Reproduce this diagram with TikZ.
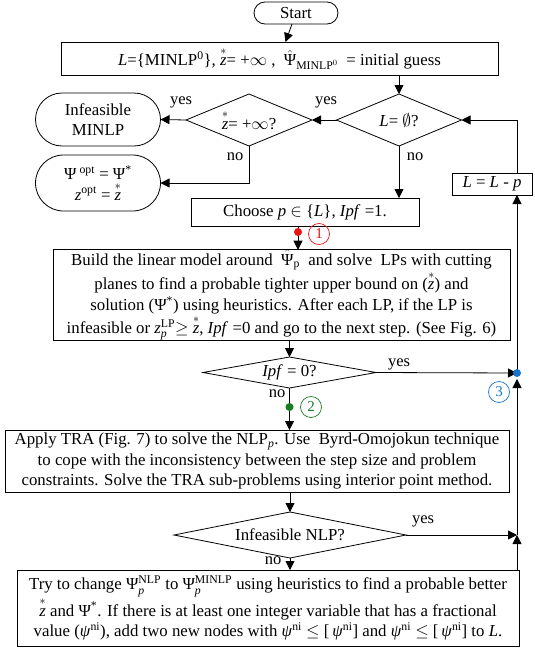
\documentclass[tikz,border=0pt]{standalone}
\usepackage{fontspec}
\usepackage{amsmath}
\setmainfont{Liberation Serif}
\usetikzlibrary{shapes.geometric,shapes.misc,arrows.meta}
\definecolor{cred}{RGB}{235,20,20}
\definecolor{cgreen}{RGB}{25,125,30}
\definecolor{cblue}{RGB}{25,115,205}
\newcommand{\zst}{\ensuremath{\overset{*}{\text{\itshape z}}}}
\begin{document}
\begin{tikzpicture}[x=1pt,y=-1pt, font=\fontsize{16.8}{20.5}\selectfont,
  every node/.style={inner sep=0pt, outer sep=0pt},
  box/.style={draw, line width=0.8pt, rectangle, align=center},
  dia/.style={draw, line width=0.8pt, diamond, align=center},
  term/.style={draw, line width=0.8pt, rounded rectangle, align=center},
  arr/.style={line width=0.8pt, -{Triangle[length=9pt,width=9pt]}},
  ln/.style={line width=0.8pt},
  lbl/.style={font=\fontsize{16.5}{18}\selectfont},
  num/.style={circle, draw, line width=0.7pt, minimum size=21pt, font=\fontsize{15}{15}\selectfont},
  dotn/.style={circle, fill, minimum size=8pt}
]
\useasboundingbox (0,0) rectangle (535,648);

% nodes
\node[term, minimum width=84pt, minimum height=22pt] (start) at (296,13) {Start};
\node[box, minimum width=437pt, minimum height=33pt] (init) at (279.5,58.5)
  {\textit{L}=\{MINLP\textsuperscript{0}\}, \zst= +$\infty$ , \ $\hat{\text{Ψ}}_{\text{MINLP}^{0}}$ \ = initial guess};
\node[dia, minimum width=125pt, minimum height=52pt, aspect=2.4] (Ldia) at (399,120) {\textit{L}= $\emptyset$?};
\node[dia, minimum width=126pt, minimum height=52pt, aspect=2.4] (zdia) at (249,120) {\zst= +$\infty$?};
\node[term, minimum width=125pt, minimum height=53pt] (inf) at (98,119.5) {Infeasible\\MINLP};
\node[term, minimum width=125pt, minimum height=56pt] (opt) at (98,183)
  {Ψ\textsuperscript{ opt} = Ψ\textsuperscript{*}\\\textit{z}\textsuperscript{opt} = \zst};
\node[box, minimum width=228pt, minimum height=28pt] (choose) at (305,212)
  {Choose \textit{p} $\in$ \{\textit{L}\}, \textit{Ipf} =1.};
\node[box, minimum width=80pt, minimum height=22pt] (llp) at (492,184) {\textit{L} = \textit{L} - \textit{p}};
\node[box, minimum width=457pt, minimum height=90pt] (build) at (281.5,295)
  {Build the linear model around \ $\hat{\text{Ψ}}_{\text{p}}$ \ and solve \ LPs with cutting\\
   planes to find a probable tighter upper bound on (\zst) and\\
   solution (Ψ\textsuperscript{*}) using heuristics. After each LP, if the LP is\\
   infeasible or $\text{\itshape z}_{\text{\itshape p}}^{\text{LP}}$$\geq$ \zst, \textit{Ipf} =0 and go to the next step. (See Fig. 6)};
\node[dia, minimum width=173pt, minimum height=31pt, aspect=5.6] (ipf) at (289.5,372.5) {\textit{Ipf} = 0?};
\node[box, minimum width=504pt, minimum height=62pt] (tra) at (257,461)
  {Apply TRA (Fig. 7) to solve the NLP\textsubscript{\textit{p}}. Use \ Byrd-Omojokun technique\\
   to cope with the inconsistency between the step size and problem\\
   constraints. Solve the TRA sub-problems using interior point method.};
\node[dia, minimum width=232pt, minimum height=46pt, aspect=5] (nlp) at (290,535) {Infeasible NLP?};
\node[box, minimum width=502pt, minimum height=76pt] (bot) at (268,608)
  {Try to change $\text{Ψ}_{\text{\itshape p}}^{\text{NLP}}$ to $\text{Ψ}_{\text{\itshape p}}^{\text{MINLP}}$ using heuristics to find a probable better\\
   \zst\ and Ψ\textsuperscript{*}. If there is at least one integer variable that has a fractional\\
   value (\textit{ψ}\textsuperscript{ni}), add two new nodes with \textit{ψ}\textsuperscript{ni} $\leq$ [\,\textit{ψ}\textsuperscript{ni}] and \textit{ψ}\textsuperscript{ni} $\leq$ [\,\textit{ψ}\textsuperscript{ni}] to \textit{L}.};

% coordinates
\coordinate (rdot) at (298,232);
\coordinate (gdot) at (289.5,407);
\coordinate (j3) at (517,373);
\coordinate (j3b) at (517,379);
\coordinate (j1) at (517,535);

% connectors
\draw[arr] (start) -- (init);
\draw[arr] (init.south -| Ldia) -- (Ldia.north);
\draw[arr] (Ldia.west) -- (zdia.east);
\draw[arr] (zdia.west) -- (inf.east);
\draw[arr] (zdia.south) |- (opt.east);
\draw[arr] (Ldia.south) -- (choose.north -| Ldia);
\draw[ln] (choose.south -| rdot) -- (rdot);
\draw[arr] (rdot) -- (build.north -| rdot);
\draw[arr] (build.south -| ipf) -- (ipf.north);
\draw[arr] (ipf.east) -- (j3);
\draw[ln] (ipf.south) -- (gdot);
\draw[arr] (gdot) -- (tra.north -| gdot);
\draw[arr] (tra.south -| nlp) -- (nlp.north);
\draw[arr] (nlp.east) -- (j1);
\draw[arr] (nlp.south) -- (bot.north -| nlp);
\draw[arr] (bot.north -| j1) -- (j1);
\draw[arr] (j1) -- (j3b);
\draw[arr] (j3) -- (llp.south -| j3);
\draw[arr] (llp.north -| j3) |- (Ldia.east);

% dots and numbers
\node[dotn, fill=cred] (rd) at (rdot) {};
\node[dotn, fill=cgreen] (gd) at (gdot) {};
\node[dotn, fill=cblue] (bd) at (j3) {};
\node[num, draw=cred, text=cred] (n1) at (319,234) {1};
\node[num, draw=cgreen, text=cgreen] (n2) at (311,407) {2};
\node[num, draw=cblue, text=cblue] (n3) at (499,392) {3};

% labels
\node[lbl] (y1) at (326,102) {yes};
\node[lbl] (y2) at (181,102) {yes};
\node[lbl] (n4) at (235,157) {no};
\node[lbl] (n5) at (415,157) {no};
\node[lbl] (y3) at (399,364) {yes};
\node[lbl] (n6) at (277,394) {no};
\node[lbl] (y4) at (423,521) {yes};
\node[lbl] (n7) at (273,561) {no};
\end{tikzpicture}
\end{document}
